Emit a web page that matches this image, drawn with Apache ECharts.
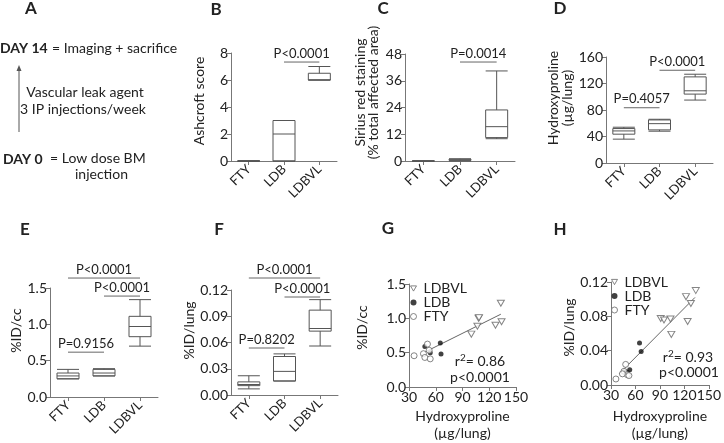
<!DOCTYPE html>
<html><head><meta charset="utf-8">
<script src="https://cdn.jsdelivr.net/npm/echarts@6/dist/echarts.min.js"></script>
<style>html,body{margin:0;padding:0;background:#fff}#c{width:724px;height:443px}</style>
</head><body><div id="c"></div>
<script>
const FONT = 'Lato, "Open Sans", sans-serif';
const groups = ['FTY', 'LDB', 'LDBVL'];
// box data: [min, Q1, median, Q3, max]
const ashcroft = [[0,0,0,0,0],[0,0,2,3,3],[6,6,6,6.5,7]];
const siriusRed = [[0,0,0,0,0],[0,0.3,0.5,0.8,1.0],[10,10.5,15.4,22.9,40.4]];
const hydroxyproline = [[36,43.5,48.4,52,54],[48,50,59.4,65,66],[95,104,109,130,134]];
const idPerCc = [[0.25,0.25,0.29,0.33,0.38],[0.29,0.29,0.33,0.38,0.39],[0.70,0.83,0.97,1.11,1.34]];
const idPerLung = [[0.007,0.0107,0.012,0.015,0.022],[0.016,0.016,0.027,0.044,0.047],[0.056,0.073,0.076,0.097,0.109]];
// significance brackets: [from, to, level, label]
const sigB = [['LDB','LDBVL',7.33,'P<0.0001']];
const sigC = [['LDB','LDBVL',44.4,'P=0.0014']];
const sigD = [['FTY','LDB',83.4,'P=0.4057'],['LDB','LDBVL',140,'P<0.0001']];
const sigE = [['FTY','LDBVL',1.637,'P<0.0001'],['LDB','LDBVL',1.389,'P<0.0001'],['FTY','LDB',0.617,'P=0.9156']];
const sigF = [['FTY','LDBVL',0.1337,'P<0.0001'],['LDB','LDBVL',0.112,'P<0.0001'],['FTY','LDB',0.0537,'P=0.8202']];
// scatter: [hydroxyproline, value]
const gLDBVL = [[133,1.22],[108,1.00],[108.5,1.01],[106.7,0.885],[99.9,0.77],[127,0.90],[133.8,0.95]];
const gLDB = [[47.8,0.59],[65.1,0.64],[53.8,0.50],[65.9,0.48]];
const gFTY = [[35.7,0.455],[46.2,0.485],[50.7,0.625],[47.8,0.43],[53.8,0.41],[52.6,0.535]];
const gFit = [[48,0.51],[133,1.06]];
const hLDBVL = [[134,0.110],[122,0.103],[128,0.095],[91,0.0775],[95,0.0757],[103,0.0768],[104,0.059],[124,0.074]];
const hLDB = [[65,0.049],[67,0.039],[48,0.0155],[53,0.0177],[50,0.015]];
const hFTY = [[36,0.007],[48,0.024],[46,0.016],[50,0.012],[44,0.013],[52,0.011]];
const hFit = [[40,0.013],[133,0.102]];
const xTicks = [30, 150, 30]; // min, max, interval

const AX = '#777', TXT = '#222', BOX = '#555';
const grids = [
  {left:231, top:53, width:106, height:108},
  {left:405, top:54, width:110, height:107},
  {left:606, top:57, width:107, height:106},
  {left:50, top:288, width:108, height:109},
  {left:231, top:290, width:107, height:105},
  {left:409, top:284, width:107, height:108},
  {left:611, top:282, width:106, height:108}
];
function yAx(gi, max, interval, dec, name, gap, shift, lh) {
  return {
    type:'value', gridIndex:gi, min:0, max:max, interval:interval,
    axisLine:{show:true, lineStyle:{color:AX, width:1}},
    axisTick:{show:true, length:4, lineStyle:{color:AX}},
    splitLine:{show:false},
    axisLabel:{fontSize:14, color:TXT, fontFamily:FONT, margin:3, formatter:v => v.toFixed(dec)},
    name:name, nameLocation:'middle', nameGap:gap,
    nameTextStyle:{fontSize:14, color:TXT, fontFamily:FONT, lineHeight:lh || 14, padding:[0,0,0,shift*2]}
  };
}
function xCat(gi) {
  return {
    type:'category', gridIndex:gi, data:groups,
    axisLine:{show:true, lineStyle:{color:AX, width:1}},
    axisTick:{show:true, alignWithLabel:true, length:4, lineStyle:{color:AX}},
    axisLabel:{rotate:45, fontSize:13, color:TXT, fontFamily:FONT, margin:6, interval:0}
  };
}
function xVal(gi, gap) {
  return {
    type:'value', gridIndex:gi, min:xTicks[0], max:xTicks[1], interval:xTicks[2],
    axisLine:{show:true, onZero:false, lineStyle:{color:AX, width:1}},
    axisTick:{show:true, length:4, lineStyle:{color:AX}},
    splitLine:{show:false},
    axisLabel:{fontSize:14, color:TXT, fontFamily:FONT, margin:3},
    name:'Hydroxyproline\n(µg/lung)', nameLocation:'middle', nameGap:gap,
    nameTextStyle:{fontSize:14, color:TXT, fontFamily:FONT, lineHeight:17}
  };
}
function boxSeries(gi, data) {
  return {
    type:'boxplot', xAxisIndex:gi, yAxisIndex:gi, data:data, boxWidth:[22,22], silent:true,
    itemStyle:{color:'#fff', borderColor:BOX, borderWidth:1}
  };
}
function sigSeries(gi, items) {
  return {
    type:'custom', xAxisIndex:gi, yAxisIndex:gi, clip:false, silent:true, z:5,
    data:items.map(d => [groups.indexOf(d[0]), groups.indexOf(d[1]), d[2]]),
    encode:{x:[0,1], y:2},
    renderItem:(params, api) => {
      const it = items[params.dataIndex];
      const p1 = api.coord([api.value(0), api.value(2)]);
      const p2 = api.coord([api.value(1), api.value(2)]);
      return {type:'group', children:[
        {type:'line', shape:{x1:p1[0], y1:p1[1], x2:p2[0], y2:p2[1]}, style:{stroke:'#666', lineWidth:1}},
        {type:'text', style:{x:(p1[0]+p2[0])/2, y:p1[1]-2, text:it[3], fill:TXT, font:'13px ' + FONT, align:'center', verticalAlign:'bottom'}}
      ]};
    }
  };
}
const TRI = 'path://M0,0L10,0L5,8.66Z';
const STY = {
  LDBVL:{symbol:TRI, size:[7,6], style:{color:'#fff', borderColor:'#666', borderWidth:1}},
  LDB:{symbol:'circle', size:5, style:{color:'#111', borderWidth:0}},
  FTY:{symbol:'circle', size:6, style:{color:'#fff', borderColor:'#666', borderWidth:1}}
};
function scat(gi, name, data) {
  const st = STY[name];
  return {type:'scatter', name:name, xAxisIndex:gi, yAxisIndex:gi, data:data, silent:true, z:4,
    symbol:st.symbol, symbolSize:st.size, itemStyle:st.style};
}
function fit(gi, data) {
  return {type:'line', xAxisIndex:gi, yAxisIndex:gi, data:data, symbol:'none', silent:true,
    lineStyle:{color:'#666', width:1}, z:3};
}
function legendAt(left, top) {
  return {left:left, top:top, orient:'vertical', itemWidth:6, itemHeight:6, itemGap:0, padding:0,
    selectedMode:false,
    data:['LDBVL','LDB','FTY'].map(n => ({name:n, icon:STY[n].symbol, itemStyle:STY[n].style})),
    textStyle:{fontSize:14, lineHeight:13, color:TXT, fontFamily:FONT, padding:[0,0,0,2]}};
}
function txt(x, y, text, opt) {
  opt = opt || {};
  return {type:'text', x:x, y:y, silent:true, style:Object.assign({text:text, fill:TXT,
    font:(opt.bold ? 'bold ' : '') + (opt.size || 14) + 'px ' + FONT,
    align:opt.align || 'left', verticalAlign:'middle'}, opt.rich ? {rich:opt.rich} : {})};
}
const sup = {s:{fontSize:10, fontFamily:FONT, fill:TXT, verticalAlign:'top', padding:[0,0,6,0]}};

const chart = echarts.init(document.getElementById('c'), null, {renderer:'canvas'});
chart.setOption({
  backgroundColor:'#fff', animation:false,
  textStyle:{fontFamily:FONT},
  grid:grids,
  xAxis:[xCat(0), xCat(1), xCat(2), xCat(3), xCat(4), xVal(5, 21), xVal(6, 23)],
  yAxis:[
    yAx(0, 8, 2, 0, 'Ashcroft score', 25, 6),
    yAx(1, 48, 12, 0, 'Sirius red staining\n(% total affected area)', 25, 15, 13),
    yAx(2, 160, 40, 0, 'Hydroxyproline\n(µg/lung)', 24, 12, 14),
    yAx(3, 1.5, 0.5, 1, '%ID/cc', 23, 12),
    yAx(4, 0.12, 0.03, 2, '%ID/lung', 28, 12),
    yAx(5, 1.5, 0.5, 1, '%ID/cc', 40, 8),
    yAx(6, 0.12, 0.04, 2, '%ID/lung', 32, 6)
  ],
  legend:[legendAt(410, 281.5), legendAt(611, 275)],
  series:[
    boxSeries(0, ashcroft), sigSeries(0, sigB),
    boxSeries(1, siriusRed), sigSeries(1, sigC),
    boxSeries(2, hydroxyproline), sigSeries(2, sigD),
    boxSeries(3, idPerCc), sigSeries(3, sigE),
    boxSeries(4, idPerLung), sigSeries(4, sigF),
    fit(5, gFit), scat(5, 'LDBVL', gLDBVL), scat(5, 'LDB', gLDB), scat(5, 'FTY', gFTY),
    fit(6, hFit), scat(6, 'LDBVL', hLDBVL), scat(6, 'LDB', hLDB), scat(6, 'FTY', hFTY)
  ],
  graphic:[
    txt(31, 9, 'A', {bold:true, size:17, align:'center'}),
    txt(0, 48, 'DAY 14', {bold:true}),
    txt(52, 48, '= Imaging + sacrifice'),
    {type:'line', silent:true, shape:{x1:19, y1:132, x2:19, y2:70}, style:{stroke:'#555', lineWidth:1}},
    {type:'polygon', silent:true, shape:{points:[[19,65],[16.5,71],[21.5,71]]}, style:{fill:'#555'}},
    txt(85, 92, 'Vascular leak agent', {align:'center'}),
    txt(83, 109, '3 IP injections/week', {align:'center'}),
    txt(3, 159, 'DAY 0', {bold:true}),
    txt(50, 158, '= Low dose BM'),
    txt(75, 174, 'injection'),
    txt(216, 10, 'B', {bold:true, size:17, align:'center'}),
    txt(383, 9, 'C', {bold:true, size:17, align:'center'}),
    txt(560, 9, 'D', {bold:true, size:17, align:'center'}),
    txt(25, 230, 'E', {bold:true, size:17, align:'center'}),
    txt(219, 230, 'F', {bold:true, size:17, align:'center'}),
    txt(388, 229, 'G', {bold:true, size:17, align:'center'}),
    txt(560, 230, 'H', {bold:true, size:17, align:'center'}),
    txt(480, 361, 'r{s|2}= 0.86', {align:'center', rich:sup}),
    txt(480, 377, 'p<0.0001', {align:'center'}),
    txt(688, 357, 'r{s|2}= 0.93', {align:'center', rich:sup}),
    txt(689, 372, 'p<0.0001', {align:'center'})
  ]
});
</script></body></html>
